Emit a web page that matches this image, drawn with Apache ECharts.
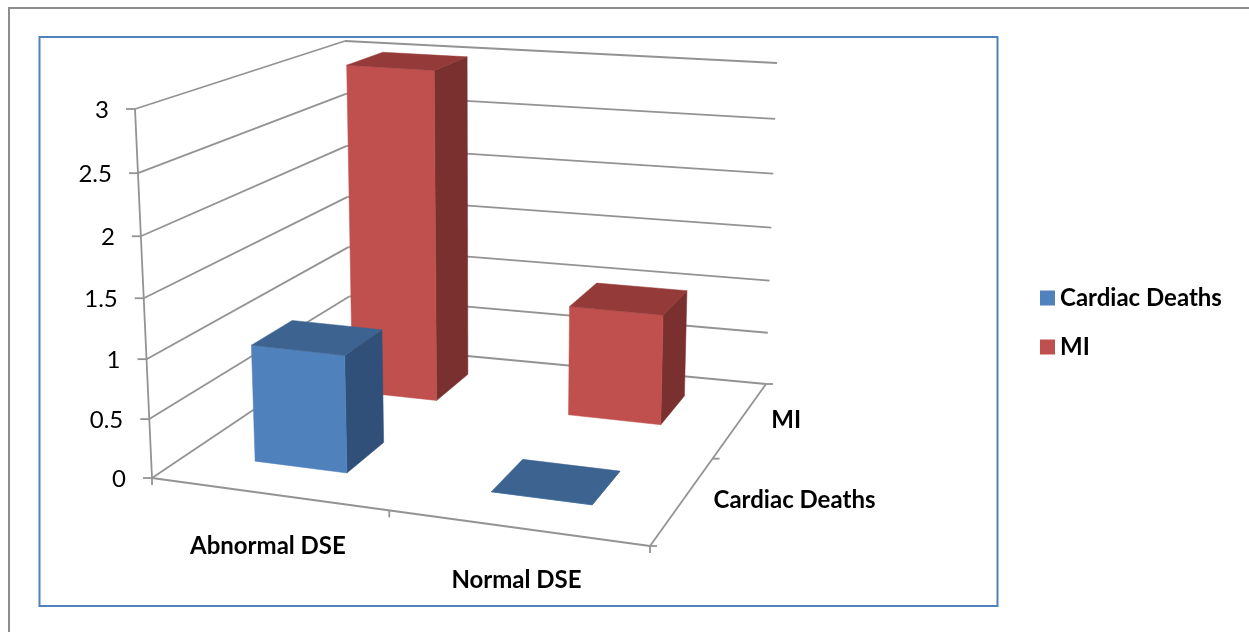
<!DOCTYPE html>
<html>
<head>
<meta charset="utf-8">
<style>
  html, body { margin: 0; padding: 0; background: #fff; }
  #mainChart { width: 1249px; height: 632px; }
</style>
</head>
<body>
<div id="mainChart"></div>
<script src="https://cdn.jsdelivr.net/npm/echarts@6/dist/echarts.min.js"></script>
<script>
const categories = ['Abnormal DSE', 'Normal DSE']
const seriesNames = ['Cardiac Deaths', 'MI']
const cardiacDeaths = [1, 0]
const mi = [3, 1]
const valueTicks = [0, 0.5, 1, 1.5, 2, 2.5, 3]
const valueMax = 3

// corners of the drawn 3D box on the page: front/back, left/right, floor/ceiling
const box = {
  fl0: [152, 478], fr0: [650, 546], br0: [766, 384], bl0: [350, 345],
  fl1: [135, 109], fr1: [658, 150], br1: [777, 63], bl1: [345, 41]
}
const barHalf = 0.2
const barShiftCat = [-0.006, 0.004]
const barShiftRow = 0.035
const gridColor = '#939393'
const font = 'Lato, "Open Sans", sans-serif'
const faces = [
  { front: '#4f81bd', top: '#3d6491', side: '#315079' },
  { front: '#c0504d', top: '#943a38', side: '#7a302e' }
]

// foreshortening along each axis
const warp = (x, a) => x * a / (1 + x * (a - 1))
const mix = (p, q, t) => [p[0] + (q[0] - p[0]) * t, p[1] + (q[1] - p[1]) * t]

function project(cat, row, value) {
  const s = warp(cat / categories.length, 0.91)
  const t = warp(row / seriesNames.length, 1.17)
  const w = warp(value / valueMax, 0.95)
  const floor = mix(mix(box.fl0, box.bl0, t), mix(box.fr0, box.br0, t), s)
  const ceil = mix(mix(box.fl1, box.bl1, t), mix(box.fr1, box.br1, t), s)
  return mix(floor, ceil, w)
}

function line(api, a, b) {
  const p = api.coord(a)
  const q = api.coord(b)
  return {
    type: 'line',
    shape: { x1: p[0], y1: p[1], x2: q[0], y2: q[1] },
    style: { stroke: gridColor, lineWidth: 1.8 }
  }
}

function label(api, at, text, align, weight) {
  const p = api.coord(at)
  return {
    type: 'text',
    style: {
      x: p[0], y: p[1], text, align, verticalAlign: 'middle',
      fill: '#000', font: `${weight} 24px ${font}`
    }
  }
}

function renderWalls(params, api) {
  const children = []
  const nRows = seriesNames.length
  const nCats = categories.length
  valueTicks.forEach(v => {
    const front = project(0, 0, v)
    const back = project(0, nRows, v)
    const right = project(nCats, nRows, v)
    children.push(line(api, front, back), line(api, back, right))
    children.push(line(api, [front[0] - 9, front[1]], front))
    children.push(label(api, [front[0] - 26, front[1] + 1], String(v), 'right', 'normal'))
  })
  children.push(line(api, project(0, 0, 0), project(0, 0, valueMax)))
  children.push(line(api, project(0, 0, 0), project(nCats, 0, 0)))
  children.push(line(api, project(nCats, 0, 0), project(nCats, nRows, 0)))
  for (let c = 0; c <= nCats; c++) {
    const p = project(c, 0, 0)
    children.push(line(api, p, [p[0], p[1] + 7]))
  }
  for (let r = 0; r <= nRows; r++) {
    const p = project(nCats, r, 0)
    children.push(line(api, p, [p[0] + 7, p[1]]))
  }
  categories.forEach((name, c) => {
    const p = project(c + 0.5, 0, 0)
    children.push(label(api, [p[0], p[1] + 52], name, 'center', 'bold'))
  })
  seriesNames.forEach((name, r) => {
    const p = project(nCats, r + 0.5, 0)
    children.push(label(api, [p[0] + 31, p[1]], name, 'left', 'bold'))
  })
  return { type: 'group', children }
}

function renderBar(row, params, api) {
  const cat = api.value(0)
  const value = api.value(1)
  const c0 = cat + 0.5 + barShiftCat[row] - barHalf, c1 = cat + 0.5 + barShiftCat[row] + barHalf
  const r0 = row + 0.5 + barShiftRow - barHalf, r1 = row + 0.5 + barShiftRow + barHalf
  const pt = (c, r, v) => api.coord(project(c, r, v))
  const poly = (points, color) => ({
    type: 'polygon',
    shape: { points },
    style: { fill: color, stroke: color, lineWidth: 0.5 }
  })
  const face = faces[row]
  return {
    type: 'group',
    children: [
      poly([pt(c1, r0, 0), pt(c1, r1, 0), pt(c1, r1, value), pt(c1, r0, value)], face.side),
      poly([pt(c0, r0, 0), pt(c1, r0, 0), pt(c1, r0, value), pt(c0, r0, value)], face.front),
      poly([pt(c0, r0, value), pt(c1, r0, value), pt(c1, r1, value), pt(c0, r1, value)], face.top)
    ]
  }
}

const chart = echarts.init(document.getElementById('mainChart'))

chart.setOption({
  animation: false,
  backgroundColor: '#fff',
  grid: { left: 0, right: 0, top: 0, bottom: 0 },
  xAxis: { type: 'value', min: 0, max: 1249, show: false },
  yAxis: { type: 'value', min: 0, max: 632, inverse: true, show: false },
  legend: {
    data: seriesNames,
    orient: 'vertical',
    left: 1035,
    top: 281,
    icon: 'rect',
    itemWidth: 15,
    itemHeight: 15,
    itemGap: 25,
    textStyle: { fontFamily: font, fontWeight: 'bold', fontSize: 24, color: '#000' },
    selectedMode: false
  },
  graphic: [
    {
      type: 'polyline',
      shape: { points: [[9, 632], [9, 8], [1249, 8]] },
      style: { stroke: '#8c8c8c', lineWidth: 2, fill: null },
      silent: true
    },
    {
      type: 'rect',
      shape: { x: 39.5, y: 37, width: 958, height: 569 },
      style: { stroke: '#4f81bd', lineWidth: 2, fill: null },
      silent: true
    }
  ],
  series: [
    {
      name: 'axes',
      type: 'custom',
      clip: false,
      silent: true,
      z: 1,
      data: [[0, 0]],
      renderItem: renderWalls
    },
    {
      name: seriesNames[1],
      type: 'custom',
      clip: false,
      z: 2,
      itemStyle: { color: faces[1].front },
      data: mi.map((v, i) => [i, v]),
      renderItem: (params, api) => renderBar(1, params, api)
    },
    {
      name: seriesNames[0],
      type: 'custom',
      clip: false,
      z: 3,
      itemStyle: { color: faces[0].front },
      data: cardiacDeaths.map((v, i) => [i, v]),
      renderItem: (params, api) => renderBar(0, params, api)
    }
  ]
})
</script>
</body>
</html>
